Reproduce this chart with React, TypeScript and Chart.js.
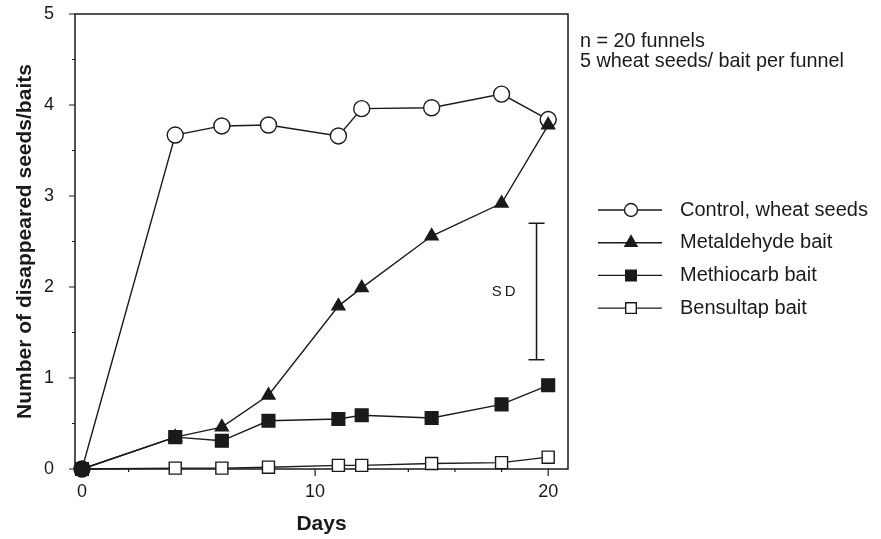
import React, { useEffect, useRef } from 'react';
import { Chart, registerables } from 'chart.js';
import { drawPoint } from 'chart.js/helpers';

Chart.register(...registerables);

// ---- data ----
const days = [0, 4, 6, 8, 11, 12, 15, 18, 20];
const controlSeeds = [0, 3.67, 3.77, 3.78, 3.66, 3.96, 3.97, 4.12, 3.84];
const metaldehydeBait = [0, 0.35, 0.46, 0.81, 1.79, 1.99, 2.56, 2.92, 3.78];
const methiocarbBait = [0, 0.35, 0.31, 0.53, 0.55, 0.59, 0.56, 0.71, 0.92];
const bensultapBait = [0, 0.01, 0.01, 0.02, 0.04, 0.04, 0.06, 0.07, 0.13];
const seriesLabels = ['Control, wheat seeds', 'Metaldehyde bait', 'Methiocarb bait', 'Bensultap bait'];
const xTickValues = [0, 10, 20];
const yTickValues = [0, 1, 2, 3, 4, 5];
const xMinorStep = 2;
const yMinorStep = 0.5;
const notes = ['n = 20 funnels', '5 wheat seeds/ bait per funnel'];
const sdDay = 19.5;
const sdHigh = 2.7;
const sdLow = 1.2;
const sdLabelDay = 18.15;
const sdLabelValue = 1.95;

const INK = '#1a1a1a';
const FONT = '"Liberation Sans", Arial, Helvetica, sans-serif';

type Style = { pointStyle: any; radius: number; fill: string; legendRadius: number; order: number };
const styles: Style[] = [
  { pointStyle: 'circle', radius: 8, fill: '#ffffff', legendRadius: 6.5, order: 3 },
  { pointStyle: 'triangle', radius: 7.5, fill: INK, legendRadius: 7, order: 2 },
  { pointStyle: 'rect', radius: 9, fill: INK, legendRadius: 7.5, order: 1 },
  { pointStyle: 'rect', radius: 8.5, fill: '#ffffff', legendRadius: 7.5, order: 4 },
];
const seriesValues = [controlSeeds, metaldehydeBait, methiocarbBait, bensultapBait];

const decor = {
  id: 'decor',
  beforeDatasetsDraw(chart: any) {
    const { ctx, chartArea: a, scales } = chart;
    const x = scales.x;
    const y = scales.y;
    ctx.save();
    ctx.strokeStyle = INK;
    ctx.lineWidth = 1.5;
    ctx.strokeRect(a.left, a.top, a.right - a.left, a.bottom - a.top);
    ctx.lineWidth = 1.2;
    ctx.beginPath();
    for (let v = 0; v <= 20; v += xMinorStep) {
      const px = x.getPixelForValue(v);
      const len = xTickValues.includes(v) ? 7 : 3;
      ctx.moveTo(px, a.bottom);
      ctx.lineTo(px, a.bottom + len);
    }
    for (let v = 0; v <= 5; v += yMinorStep) {
      const py = y.getPixelForValue(v);
      const len = yTickValues.includes(v) ? 6 : 3;
      ctx.moveTo(a.left, py);
      ctx.lineTo(a.left - len, py);
    }
    ctx.stroke();
    ctx.restore();
  },
  afterDraw(chart: any) {
    const { ctx, scales } = chart;
    const x = scales.x;
    const y = scales.y;
    ctx.save();
    // SD bar
    const sx = x.getPixelForValue(sdDay);
    const sTop = y.getPixelForValue(sdHigh);
    const sBot = y.getPixelForValue(sdLow);
    ctx.strokeStyle = INK;
    ctx.lineWidth = 1.5;
    ctx.beginPath();
    ctx.moveTo(sx, sTop);
    ctx.lineTo(sx, sBot);
    ctx.moveTo(sx - 8, sTop);
    ctx.lineTo(sx + 8, sTop);
    ctx.moveTo(sx - 8, sBot);
    ctx.lineTo(sx + 8, sBot);
    ctx.stroke();
    ctx.fillStyle = INK;
    ctx.font = `15px ${FONT}`;
    (ctx as any).letterSpacing = '3px';
    ctx.textAlign = 'center';
    ctx.textBaseline = 'middle';
    ctx.fillText('SD', x.getPixelForValue(sdLabelDay), y.getPixelForValue(sdLabelValue));
    (ctx as any).letterSpacing = '0px';

    // notes
    ctx.textAlign = 'left';
    ctx.font = `19.8px ${FONT}`;
    notes.forEach((t, i) => ctx.fillText(t, 580, 42 + i * 20));

    // legend
    chart.data.datasets.forEach((ds: any, i: number) => {
      const yy = 210 + i * 32.7;
      const st = styles[i];
      ctx.strokeStyle = INK;
      ctx.lineWidth = 1.4;
      ctx.beginPath();
      ctx.moveTo(598, yy);
      ctx.lineTo(662, yy);
      ctx.stroke();
      ctx.fillStyle = st.fill;
      ctx.strokeStyle = INK;
      ctx.lineWidth = 1.4;
      drawPoint(ctx, { pointStyle: st.pointStyle, radius: st.legendRadius, borderWidth: 1.4, rotation: 0 } as any, 631, yy);
      ctx.fillStyle = INK;
      ctx.font = `20px ${FONT}`;
      ctx.textAlign = 'left';
      ctx.textBaseline = 'middle';
      ctx.fillText(ds.label, 680, yy);
    });
    ctx.restore();
  },
};

const zeroPad = (s: any) => {
  s.paddingTop = 0;
  s.paddingBottom = 0;
  s.paddingLeft = 0;
  s.paddingRight = 0;
};

export default function App() {
  const ref = useRef<HTMLCanvasElement>(null);
  useEffect(() => {
    if (!ref.current) return;
    const datasets = seriesValues.map((vals, i) => {
      const st = styles[i];
      return {
        label: seriesLabels[i],
        data: days.map((d, k) => ({ x: d, y: vals[k] })),
        borderColor: INK,
        borderWidth: 1.4,
        pointStyle: st.pointStyle,
        pointRadius: st.radius,
        pointBorderWidth: 1.4,
        pointBorderColor: INK,
        pointBackgroundColor: i === 0 ? (c: any) => (c.dataIndex === 0 ? INK : st.fill) : st.fill,
        clip: false as any,
        order: st.order,
        tension: 0,
      };
    });
    const chart = new Chart(ref.current, {
      type: 'scatter',
      data: { datasets: datasets as any },
      options: {
        animation: false,
        responsive: false,
        devicePixelRatio: 1,
        showLine: true,
        layout: { padding: { left: 0, top: 14, right: 313, bottom: 0 } },
        plugins: { legend: { display: false }, tooltip: { enabled: false } },
        scales: {
          x: {
            type: 'linear',
            min: -0.3,
            max: 20.85,
            afterBuildTicks: (s: any) => {
              s.ticks = xTickValues.map((v) => ({ value: v }));
            },
            afterFit: (s: any) => {
              s.height = 70;
              zeroPad(s);
            },
            grid: { display: false, drawTicks: false },
            border: { display: false },
            ticks: { color: INK, font: { family: FONT, size: 18 }, padding: 12, maxRotation: 0 },
            title: {
              display: true,
              text: 'Days',
              color: INK,
              font: { family: FONT, size: 21, weight: 'bold' },
              padding: { top: 0, bottom: 2 },
            },
          },
          y: {
            type: 'linear',
            min: 0,
            max: 5,
            afterBuildTicks: (s: any) => {
              s.ticks = yTickValues.map((v) => ({ value: v }));
            },
            afterFit: (s: any) => {
              s.width = 75;
              zeroPad(s);
            },
            grid: { display: false, drawTicks: false },
            border: { display: false },
            ticks: { color: INK, font: { family: FONT, size: 18 }, padding: 21 },
            title: {
              display: true,
              text: 'Number of disappeared seeds/baits',
              color: INK,
              font: { family: FONT, size: 21, weight: 'bold' },
              padding: { top: 13, bottom: 0 },
            },
          },
        },
      },
      plugins: [decor],
    });
    return () => chart.destroy();
  }, []);
  return (
    <div style={{ position: 'absolute', left: 0, top: 0, width: 881, height: 539, background: '#fff' }}>
      <canvas ref={ref} width={881} height={539} style={{ display: 'block' }} />
    </div>
  );
}
